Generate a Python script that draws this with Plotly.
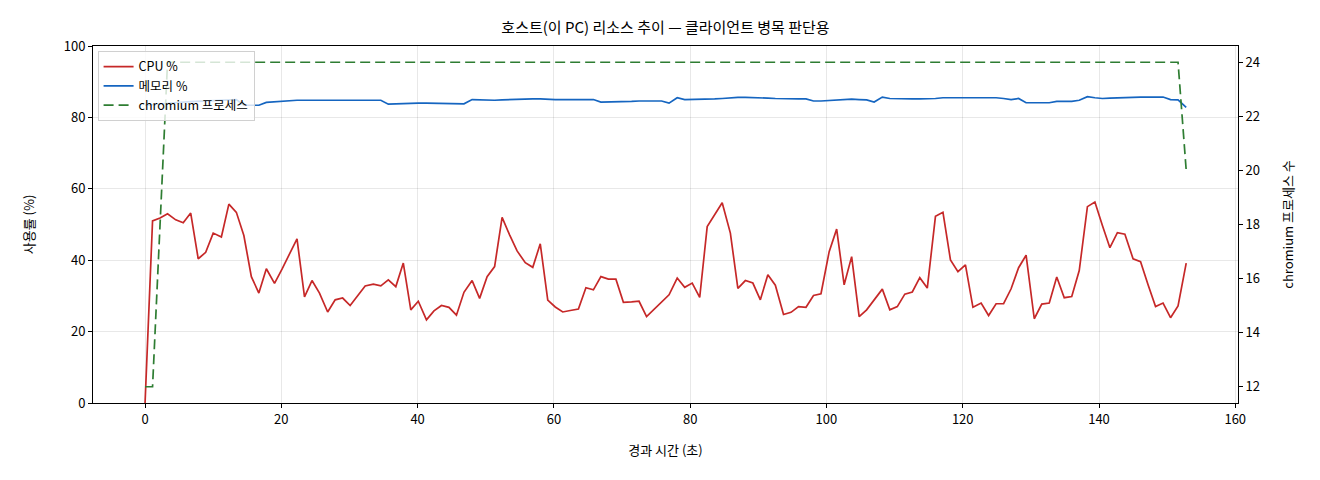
import plotly.graph_objects as go

# Elapsed seconds for each sample.
elapsed = [
    0.0, 1.1, 2.2, 3.3, 4.5, 5.6, 6.7, 7.8, 8.9, 10.0,
    11.2, 12.3, 13.4, 14.5, 15.6, 16.7, 17.8, 19.0, 20.1, 21.2,
    22.3, 23.4, 24.5, 25.6, 26.8, 27.9, 29.0, 30.1, 31.2, 32.3,
    33.5, 34.6, 35.7, 36.8, 37.9, 39.0, 40.1, 41.3, 42.4, 43.5,
    44.6, 45.7, 46.8, 48.0, 49.1, 50.2, 51.3, 52.4, 53.5, 54.6,
    55.8, 56.9, 58.0, 59.1, 60.2, 61.3, 62.4, 63.6, 64.7, 65.8,
    66.9, 68.0, 69.1, 70.2, 71.4, 72.5, 73.6, 74.7, 75.8, 76.9,
    78.1, 79.2, 80.3, 81.4, 82.5, 83.6, 84.7, 85.9, 87.0, 88.1,
    89.2, 90.3, 91.4, 92.5, 93.7, 94.8, 95.9, 97.0, 98.1, 99.2,
    100.4, 101.5, 102.6, 103.7, 104.8, 105.9, 107.0, 108.2, 109.3, 110.4,
    111.5, 112.6, 113.7, 114.8, 116.0, 117.1, 118.2, 119.3, 120.4, 121.5,
    122.7, 123.8, 124.9, 126.0, 127.1, 128.2, 129.3, 130.5, 131.6, 132.7,
    133.8, 134.9, 136.0, 137.1, 138.3, 139.4, 140.5, 141.6, 142.7, 143.8,
    145.0, 146.1, 147.2, 148.3, 149.4, 150.5, 151.6, 152.8,
]

cpu = [
    0.0, 51.0, 51.8, 53.0, 51.3, 50.5, 53.2, 40.4, 42.2, 47.6,
    46.5, 55.7, 53.4, 46.9, 35.4, 30.8, 37.6, 33.5, 37.5, 41.8,
    46.0, 29.7, 34.3, 30.8, 25.5, 28.9, 29.4, 27.3, 30.1, 32.8,
    33.3, 32.8, 34.5, 32.6, 39.2, 26.1, 28.5, 23.3, 25.8, 27.3,
    26.8, 24.6, 31.0, 34.3, 29.3, 35.4, 38.2, 52.0, 47.1, 42.6,
    39.3, 38.0, 44.6, 28.8, 26.9, 25.5, 25.9, 26.3, 32.3, 31.7,
    35.4, 34.7, 34.7, 28.2, 28.3, 28.5, 24.2, 26.3, 28.2, 30.3,
    35.0, 32.4, 33.6, 29.6, 49.4, 52.6, 56.1, 47.6, 32.1, 34.3,
    33.6, 28.9, 35.9, 33.0, 24.8, 25.4, 27.0, 26.8, 30.1, 30.6,
    42.4, 48.7, 33.1, 41.0, 24.2, 26.1, 28.9, 31.9, 26.1, 27.0,
    30.5, 31.1, 35.1, 32.2, 52.3, 53.4, 40.1, 36.8, 38.7, 26.8,
    28.0, 24.5, 27.8, 27.8, 32.0, 37.9, 41.4, 23.6, 27.7, 28.0,
    35.3, 29.5, 29.8, 37.1, 55.0, 56.3, 49.7, 43.5, 47.7, 47.3,
    40.4, 39.6, 33.1, 27.0, 28.0, 23.9, 27.2, 39.2,
]

memory = [
    83.4, 83.6, 83.8, 84.0, 84.2, 84.3, 84.4, 84.5, 84.7, 84.8,
    84.9, 85.0, 85.0, 83.4, 83.4, 83.4, 84.2, 84.4, 84.5, 84.6,
    84.8, 84.8, 84.8, 84.8, 84.7, 84.7, 84.7, 84.7, 84.7, 84.7,
    84.7, 84.8, 83.7, 83.8, 84.0, 84.1, 84.0, 84.0, 84.0, 83.9,
    83.9, 83.8, 83.8, 85.0, 84.9, 84.8, 84.8, 84.9, 85.0, 85.0,
    85.1, 85.2, 85.2, 85.0, 85.0, 85.0, 85.0, 85.0, 85.0, 85.0,
    84.3, 84.3, 84.4, 84.5, 84.5, 84.6, 84.6, 84.6, 84.6, 84.0,
    85.5, 85.0, 85.0, 85.0, 85.1, 85.2, 85.3, 85.5, 85.6, 85.6,
    85.6, 85.5, 85.4, 85.3, 85.2, 85.2, 85.2, 85.2, 84.6, 84.6,
    84.7, 85.0, 85.0, 85.1, 85.0, 84.9, 84.3, 85.7, 85.3, 85.2,
    85.2, 85.2, 85.2, 85.2, 85.3, 85.5, 85.5, 85.6, 85.6, 85.6,
    85.5, 85.5, 85.5, 85.3, 85.0, 85.3, 84.1, 84.1, 84.1, 84.1,
    84.5, 84.5, 84.5, 84.8, 85.8, 85.5, 85.3, 85.4, 85.5, 85.6,
    85.7, 85.7, 85.7, 85.7, 85.7, 85.0, 84.9, 82.8,
]

chromium = [12, 12, 18] + [24] * 134 + [20]

font = "Noto Sans CJK KR, Noto Sans, sans-serif"

fig = go.Figure()
fig.add_trace(go.Scatter(x=elapsed, y=cpu, name="CPU %", mode="lines",
                         line=dict(color="#c62828", width=1.7)))
fig.add_trace(go.Scatter(x=elapsed, y=memory, name="메모리 %", mode="lines",
                         line=dict(color="#1565c0", width=1.7)))
fig.add_trace(go.Scatter(x=elapsed, y=chromium, name="chromium 프로세스", mode="lines",
                         yaxis="y2", line=dict(color="#2e7d32", width=1.7, dash="10px,5px")))

axis_common = dict(
    showline=True, linecolor="black", linewidth=1,
    ticks="outside", ticklen=4, tickcolor="black",
    tickfont=dict(size=13, color="black"), zeroline=False,
)

# the page puts the figure 8px in from the top-left corner
fig.update_layout(
    width=1312, height=472,
    margin=dict(l=85, r=82, t=38, b=77),
    paper_bgcolor="white", plot_bgcolor="white",
    font=dict(family=font, color="black"),
    title=dict(text="호스트(이 PC) 리소스 추이 — 클라이언트 병목 판단용", x=0.5, xref="paper",
               y=0.958, yref="container", xanchor="center", yanchor="middle",
               font=dict(size=15, color="black")),
    xaxis=dict(range=[-7.64, 160.4], dtick=20, mirror=True,
               showgrid=True, gridcolor="rgba(0,0,0,0.09)",
               title=dict(text="경과 시간 (초)", font=dict(size=13), standoff=19),
               **axis_common),
    yaxis=dict(range=[0, 100], dtick=20, mirror=True,
               showgrid=True, gridcolor="rgba(0,0,0,0.09)",
               title=dict(text="사용률 (%)", font=dict(size=13), standoff=26),
               **axis_common),
    yaxis2=dict(range=[11.4, 24.6], dtick=2, overlaying="y", side="right",
                showgrid=False,
                title=dict(text="chromium 프로세스 수", font=dict(size=13), standoff=24),
                **axis_common),
    legend=dict(x=0.004, y=0.986, xanchor="left", yanchor="top",
                bgcolor="rgba(255,255,255,0.8)", bordercolor="#d0d0d0", borderwidth=1,
                font=dict(size=12.5), tracegroupgap=0),
    showlegend=True,
)

fig.write_html("out.html")
